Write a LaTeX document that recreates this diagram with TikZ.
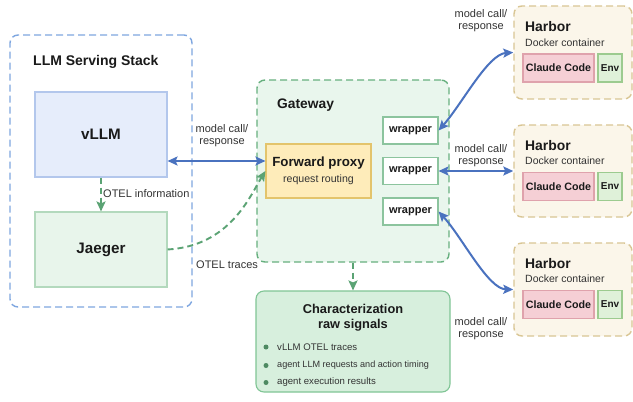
\documentclass[tikz,border=0pt]{standalone}
\usepackage{fontspec}
\setmainfont{Liberation Sans}
\usetikzlibrary{arrows.meta,calc}
\definecolor{stackblue}{HTML}{7EA6E0}
\definecolor{vfill}{HTML}{E6EDFB}
\definecolor{vdraw}{HTML}{B3C7EC}
\definecolor{jfill}{HTML}{E8F5EB}
\definecolor{jdraw}{HTML}{B3D9BD}
\definecolor{gwfill}{HTML}{E9F6ED}
\definecolor{gwdraw}{HTML}{67B07F}
\definecolor{pfill}{HTML}{FEECBA}
\definecolor{pdraw}{HTML}{E3C46C}
\definecolor{wdraw}{HTML}{8CC49E}
\definecolor{cfill}{HTML}{D7EFDD}
\definecolor{cdraw}{HTML}{80C595}
\definecolor{hfill}{HTML}{FBF6EA}
\definecolor{hdraw}{HTML}{D9C694}
\definecolor{ccfill}{HTML}{F5CFD5}
\definecolor{ccdraw}{HTML}{DFA2AC}
\definecolor{efill}{HTML}{DFF1D9}
\definecolor{edraw}{HTML}{9CCB8F}
\definecolor{arrblue}{HTML}{4A72BF}
\definecolor{arrgreen}{HTML}{5BA374}
\definecolor{bullet}{HTML}{4E8A62}
\definecolor{txt}{HTML}{1A1A1A}
\definecolor{ltxt}{HTML}{333333}
\tikzset{
  box/.style={rectangle, inner sep=0pt, line width=1.1pt},
  dashbox/.style={box, line width=1.4pt, dash pattern=on 7pt off 4pt, rounded corners=8pt},
  bluearr/.style={draw=arrblue, line width=2pt, {Stealth[length=10pt,width=9pt,inset=2pt]}-{Stealth[length=10pt,width=9pt,inset=2pt]}},
  greenarr/.style={draw=arrgreen, line width=1.9pt, dash pattern=on 6pt off 4pt, -{Stealth[length=10pt,width=9pt,inset=2pt]}},
  lbl/.style={font=\fontsize{11}{11.5}\selectfont, text=ltxt, inner sep=0pt, align=center},
  wrapbox/.style={box, fill=white, draw=wdraw, minimum width=55pt, minimum height=27pt, font=\bfseries\fontsize{11}{12}\selectfont, text=txt},
  harborbox/.style={dashbox, fill=hfill, draw=hdraw, minimum width=118pt},
  ccbox/.style={box, fill=ccfill, draw=ccdraw, minimum width=71pt, minimum height=28pt, font=\bfseries\fontsize{10.7}{12}\selectfont, text=txt},
  envbox/.style={box, fill=efill, draw=edraw, minimum width=24pt, minimum height=28pt, font=\bfseries\fontsize{10}{12}\selectfont, text=txt},
  htitle/.style={anchor=west, inner sep=0pt, font=\bfseries\fontsize{13.9}{15}\selectfont, text=txt},
  hsub/.style={anchor=west, inner sep=0pt, font=\fontsize{10.5}{12}\selectfont, text=ltxt},
  bul/.style={circle, fill=bullet, inner sep=0pt, minimum size=5pt},
  bultxt/.style={anchor=west, inner sep=0pt, font=\fontsize{9.6}{11}\selectfont, text=ltxt}
}
\begin{document}
\begin{tikzpicture}[x=1pt,y=-1pt]
\useasboundingbox (0,0) rectangle (633,402);
\fill[white] (0,0) rectangle (633,402);

% LLM Serving Stack
\node[dashbox, draw=stackblue, minimum width=182pt, minimum height=272pt] (stack) at (101,171) {};
\node[anchor=west, inner sep=0pt, font=\bfseries\fontsize{14}{15}\selectfont, text=txt] (stacktitle) at (33,62) {LLM Serving Stack};
\node[box, fill=vfill, draw=vdraw, minimum width=132pt, minimum height=85pt, font=\bfseries\fontsize{15.2}{17}\selectfont, text=txt] (vllm) at (101,134.5) {vLLM};
\node[box, fill=jfill, draw=jdraw, minimum width=132pt, minimum height=75pt, font=\bfseries\fontsize{15.2}{17}\selectfont, text=txt] (jaeger) at (101,249.5) {Jaeger};

% Gateway
\node[dashbox, fill=gwfill, draw=gwdraw, minimum width=192pt, minimum height=182pt] (gw) at (353,171) {};
\node[anchor=west, inner sep=0pt, font=\bfseries\fontsize{13.8}{15}\selectfont, text=txt] (gwtitle) at (277,105) {Gateway};
\node[box, fill=pfill, draw=pdraw, minimum width=105pt, minimum height=54pt] (proxy) at (318.5,171) {};
\node[inner sep=0pt, font=\bfseries\fontsize{13.3}{15}\selectfont, text=txt] (ptitle) at (318.5,163) {Forward proxy};
\node[inner sep=0pt, font=\fontsize{10.6}{12}\selectfont, text=ltxt] (psub) at (318.5,179.5) {request routing};
\node[wrapbox] (w1) at (410.5,130.5) {wrapper};
\node[wrapbox] (w2) at (410.5,171) {wrapper};
\node[wrapbox] (w3) at (410.5,211.5) {wrapper};

% Characterization
\node[box, fill=cfill, draw=cdraw, rounded corners=8pt, minimum width=194pt, minimum height=101pt] (char) at (353,341.5) {};
\node[inner sep=0pt, font=\bfseries\fontsize{12.8}{14}\selectfont, text=txt] (ct1) at (353,309) {Characterization};
\node[inner sep=0pt, font=\bfseries\fontsize{12.8}{14}\selectfont, text=txt] (ct2) at (353,325.5) {raw signals};
\node[bul] (b1) at (266,347) {};
\node[bul] (b2) at (266,365.5) {};
\node[bul] (b3) at (266,382.5) {};
\node[bultxt] (bt1) at (277,347) {vLLM OTEL traces};
\node[bultxt, font=\fontsize{9.1}{11}\selectfont] (bt2) at (277,365.5) {agent LLM requests and action timing};
\node[bultxt] (bt3) at (277,382.5) {agent execution results};

% Harbors
\node[harborbox, minimum height=93pt] (h1) at (573,52.5) {};
\node[htitle] (h1t) at (525,27) {Harbor};
\node[hsub] (h1s) at (525,42.5) {Docker container};
\node[ccbox] (cc1) at (558.5,68) {Claude Code};
\node[envbox] (e1) at (610,68) {Env};

\node[harborbox, minimum height=92pt] (h2) at (573,171) {};
\node[htitle] (h2t) at (525,146) {Harbor};
\node[hsub] (h2s) at (525,161) {Docker container};
\node[ccbox] (cc2) at (558.5,186.5) {Claude Code};
\node[envbox] (e2) at (610,186.5) {Env};

\node[harborbox, minimum height=93pt] (h3) at (573,289.5) {};
\node[htitle] (h3t) at (525,263.5) {Harbor};
\node[hsub] (h3s) at (525,279) {Docker container};
\node[ccbox] (cc3) at (558.5,304.5) {Claude Code};
\node[envbox] (e3) at (610,304.5) {Env};

% Connectors
\coordinate (pa) at ([yshift=10pt]proxy.west);
\draw[bluearr] (vllm.east |- pa) -- (pa);
\node[lbl] (l0) at (222,135.5) {model call/\\response};

\draw[greenarr] (vllm.south) -- (jaeger.north);
\node[anchor=west, inner sep=0pt, font=\fontsize{11}{12}\selectfont, text=ltxt] (otelinfo) at (103,194) {OTEL information};

\draw[greenarr] (jaeger.east) .. controls (230,246) and (250,196) .. (proxy.west);
\node[anchor=west, inner sep=0pt, font=\fontsize{11}{12}\selectfont, text=ltxt] (oteltr) at (196,265) {OTEL traces};

\draw[greenarr] (gw.south) -- (char.north);

\draw[bluearr] (w1.east) .. controls (462,104) and (488,54) .. (h1.west);
\draw[bluearr] (w2.east) -- (h2.west);
\draw[bluearr] (w3.east) .. controls (462,237) and (488,289) .. (h3.west);
\node[lbl] (l1) at (481,20.5) {model call/\\response};
\node[lbl] (l2) at (481,155.5) {model call/\\response};
\node[lbl] (l3) at (481,328.5) {model call/\\response};
\end{tikzpicture}
\end{document}
